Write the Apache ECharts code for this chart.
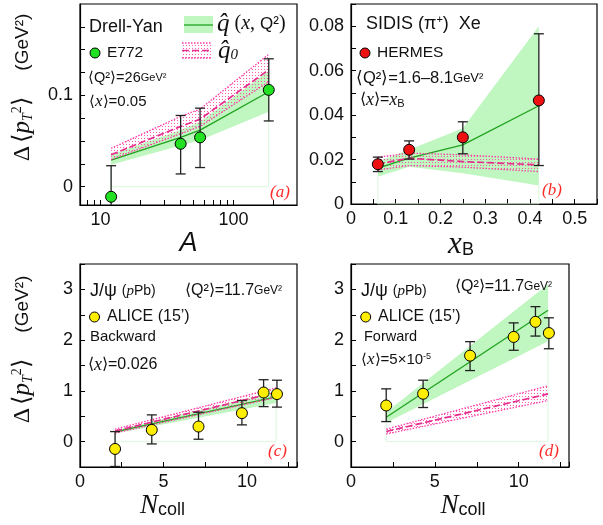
<!DOCTYPE html>
<html><head><meta charset="utf-8">
<script src="https://cdn.jsdelivr.net/npm/echarts@6/dist/echarts.min.js"></script>
<style>html,body{margin:0;padding:0;background:#fff}#c{width:603px;height:525px}</style>
</head><body><div id="c"></div>
<script>
// ---------- Panel (a): Drell-Yan, E772 ----------
const aA      = [12, 40, 56, 184];
const aY      = [-0.011, 0.047, 0.054, 0.106];
const aErrHi  = [0.023, 0.078, 0.086, 0.140];
const aErrLo  = [-0.045, 0.014, 0.021, 0.072];
const aCurveA = [12, 40, 56, 184];
const aQc     = [0.029, 0.054, 0.062, 0.104];
const aQu     = [0.035, 0.062, 0.071, 0.127];
const aQl     = [0.024, 0.045, 0.051, 0.082];
const aQ0c    = [0.035, 0.066, 0.074, 0.128];
const aQ0u    = [0.042, 0.077, 0.085, 0.145];
const aQ0l    = [0.030, 0.058, 0.066, 0.115];
const aXTicks = [8, 9, 10, 20, 30, 40, 50, 60, 70, 80, 90, 100, 200];
const aXLabels = [10, 100];
const aYTicks = [0, 0.025, 0.05, 0.075, 0.1, 0.125, 0.15, 0.175];
const aYLabels = [0, 0.1];

// ---------- Panel (b): SIDIS HERMES Xe ----------
const bX     = [0.06, 0.13, 0.25, 0.42];
const bY     = [0.0179, 0.0244, 0.0300, 0.0466];
const bErrHi = [0.0211, 0.0284, 0.0370, 0.0766];
const bErrLo = [0.0146, 0.0202, 0.0226, 0.0173];
const bQc    = [0.0161, 0.0206, 0.0266, 0.0442];
const bQu    = [0.0191, 0.0244, 0.0341, 0.0800];
const bQl    = [0.0123, 0.0168, 0.0138, 0.0083];
const bQ0c   = [0.0180, 0.0206, 0.0191, 0.0176];
const bQ0u   = [0.0211, 0.0229, 0.0221, 0.0202];
const bQ0l   = [0.0153, 0.0173, 0.0166, 0.0146];
const bXLabels = [0, 0.1, 0.2, 0.3, 0.4, 0.5];
const bYLabels = [0, 0.02, 0.04, 0.06, 0.08];

// ---------- Panels (c),(d): J/psi pPb ALICE ----------
const nColl   = [2.1, 4.3, 7.1, 9.7, 11.0, 11.8];
const cY      = [-0.144, 0.231, 0.297, 0.561, 0.968, 0.937];
const cErrHi  = [0.198, 0.527, 0.58, 0.81, 1.22, 1.21];
const cErrLo  = [-0.49, -0.045, 0.047, 0.33, 0.69, 0.68];
const dY      = [0.712, 0.943, 1.694, 2.063, 2.36, 2.14];
const dErrHi  = [1.04, 1.21, 1.97, 2.34, 2.66, 2.44];
const dErrLo  = [0.395, 0.672, 1.40, 1.80, 2.08, 1.83];
const curveN  = [2.1, 11.75];
const cQc  = [0.19, 0.88];
const cQu  = [0.22, 0.99];
const cQl  = [0.16, 0.76];
const cQ0c = [0.21, 0.97];
const cQ0u = [0.245, 1.06];
const cQ0l = [0.17, 0.87];
const dQc  = [0.48, 2.59];
const dQu  = [0.58, 3.10];
const dQl  = [0.37, 1.98];
const dQ0c = [0.20, 0.94];
const dQ0u = [0.245, 1.10];
const dQ0l = [0.15, 0.81];
const nXLabels = [0, 5, 10];
const nYLabels = [0, 1, 2, 3];

// ---------- styles ----------
const SANS = '"Liberation Sans", Arial, Helvetica, sans-serif';
const SERIF = '"Liberation Serif", "Times New Roman", serif';
const GREEN_FILL = '#c0f6c0';
const GREEN_LINE = '#1fa31f';
const PINK_DASH = '#e62e8e';
const PINK_DOT = '#ff3aa6';
const FAINT = '#dcf6dc';
const lg = v => Math.log10(v);

function dotPattern(color, w, h) {
  const c = document.createElement('canvas');
  c.width = w; c.height = h;
  const ctx = c.getContext('2d');
  ctx.fillStyle = color;
  ctx.fillRect(0, 0, 1, 1);
  return { image: c, repeat: 'repeat' };
}
const PINK_PATTERN = dotPattern('rgba(255,60,160,0.85)', 3, 3);

const tf = [lg, v => v, v => v, v => v];

function bandSeries(g, xs, up, lo, fill, z) {
  const t = tf[g];
  return {
    type: 'custom', xAxisIndex: g, yAxisIndex: g, z, silent: true, animation: false,
    data: [[t(xs[0]), lo[0]]],
    renderItem(params, api) {
      const pts = [];
      for (let i = 0; i < xs.length; i++) pts.push(api.coord([t(xs[i]), up[i]]));
      for (let i = xs.length - 1; i >= 0; i--) pts.push(api.coord([t(xs[i]), lo[i]]));
      return { type: 'polygon', shape: { points: pts }, style: { fill } };
    }
  };
}
function lineS(g, xs, ys, color, type, width, z) {
  const t = tf[g];
  return {
    type: 'line', xAxisIndex: g, yAxisIndex: g, z, silent: true, animation: false,
    data: xs.map((x, i) => [t(x), ys[i]]), symbol: 'none',
    lineStyle: { color, width, type }
  };
}
function faintS(g, xs, lo) {
  const n = xs.length - 1;
  return lineS(g, [xs[0], xs[0], xs[n], xs[n]], [lo[0], 0, 0, lo[n]], FAINT, 'solid', 1, 1);
}
function errS(g, xs, hi, lo) {
  const t = tf[g];
  return {
    type: 'custom', xAxisIndex: g, yAxisIndex: g, z: 8, silent: true, animation: false,
    data: xs.map((x, i) => [t(x), lo[i], hi[i]]),
    renderItem(params, api) {
      const x = api.value(0);
      const pHi = api.coord([x, api.value(2)]);
      const pLo = api.coord([x, api.value(1)]);
      const cs = params.coordSys;
      const top = cs.y, bot = cs.y + cs.height;
      const cl = v => Math.max(top, Math.min(bot, v));
      const st = { stroke: '#222', lineWidth: 1.3 };
      const ch = [{ type: 'line', shape: { x1: pHi[0], y1: cl(pHi[1]), x2: pLo[0], y2: cl(pLo[1]) }, style: st }];
      [pHi, pLo].forEach(p => {
        if (p[1] >= top && p[1] <= bot)
          ch.push({ type: 'line', shape: { x1: p[0] - 5, y1: p[1], x2: p[0] + 5, y2: p[1] }, style: st });
      });
      return { type: 'group', children: ch };
    }
  };
}
function ptsS(g, xs, ys, color) {
  const t = tf[g];
  return {
    type: 'scatter', xAxisIndex: g, yAxisIndex: g, z: 10, silent: true, animation: false,
    data: xs.map((x, i) => [t(x), ys[i]]), symbolSize: 11,
    itemStyle: { color, borderColor: '#000', borderWidth: 1, opacity: 1 }
  };
}
function panelSeries(g, cx, qc, qu, ql, q0c, q0u, q0l, px, py, hi, lo, color) {
  return [
    bandSeries(g, cx, qu, ql, GREEN_FILL, 1),
    faintS(g, cx, ql),
    bandSeries(g, cx, q0u, q0l, PINK_PATTERN, 2),
    lineS(g, cx, qc, GREEN_LINE, 'solid', 1.3, 3),
    lineS(g, cx, q0c, PINK_DASH, [7, 3], 1.7, 4),
    lineS(g, cx, q0u, PINK_DOT, [1.5, 1.5], 1.3, 4),
    lineS(g, cx, q0l, PINK_DOT, [1.5, 1.5], 1.3, 4),
    errS(g, px, hi, lo),
    ptsS(g, px, py, color)
  ];
}

const axisLineC = { show: true, onZero: false, lineStyle: { color: '#000', width: 1.2 } };
const tickC = { show: true, inside: true, length: 5, lineStyle: { color: '#000', width: 1 } };
const labelC = { color: '#111', fontFamily: SANS, fontSize: 18 };

function xAx(g, o) {
  return Object.assign({
    gridIndex: g, type: 'value', axisLine: axisLineC, splitLine: { show: false },
    nameLocation: 'middle', nameTextStyle: { color: '#111' }
  }, o);
}
function yAx(g, o) {
  return Object.assign({
    gridIndex: g, type: 'value', axisLine: axisLineC, splitLine: { show: false },
    nameLocation: 'middle', nameRotate: 90, nameTextStyle: { color: '#111' }
  }, o);
}

const yTitleRich = {
  d: { fontFamily: SERIF, fontSize: 24, color: '#111' },
  b: { fontFamily: SERIF, fontSize: 24, color: '#111' },
  p: { fontFamily: SERIF, fontStyle: 'italic', fontSize: 25, color: '#111' },
  t: { fontFamily: SERIF, fontStyle: 'italic', fontSize: 14, color: '#111', padding: [11, 0, 0, 0] },
  e: { fontFamily: SERIF, fontSize: 14, color: '#111', padding: [0, 0, 11, 0] },
  g: { fontFamily: SANS, fontSize: 19, color: '#111' }
};
const yTitle = '{d|Δ} {b|⟨}{p|p}{t|T}{e|2}{b|⟩}        {g|(GeV²)}';
const nRich = {
  n: { fontFamily: SERIF, fontStyle: 'italic', fontSize: 27, color: '#111' },
  c: { fontFamily: SANS, fontSize: 18, color: '#111', padding: [9, 0, 0, 0] }
};

const option = {
  animation: false,
  textStyle: { fontFamily: SANS },
  grid: [
    { left: 80, top: 4, width: 217, height: 201 },
    { left: 351, top: 4, width: 246, height: 200 },
    { left: 80, top: 264, width: 217, height: 203 },
    { left: 351, top: 264, width: 218, height: 203 }
  ].map(g => Object.assign(g, { show: true, borderColor: '#000', borderWidth: 1.2, backgroundColor: 'transparent' })),
  xAxis: [
    xAx(0, {
      min: lg(7), max: lg(300),
      axisTick: Object.assign({}, tickC, { customValues: aXTicks.map(lg) }),
      axisLabel: Object.assign({}, labelC, { margin: 6, customValues: aXLabels.map(lg), formatter: v => String(Math.round(Math.pow(10, v))) }),
      name: '{i|A}', nameGap: 24,
      nameTextStyle: { rich: { i: { fontFamily: SANS, fontStyle: 'italic', fontSize: 27, color: '#111' } } }
    }),
    xAx(1, {
      min: 0, max: 0.55, interval: 0.05,
      axisTick: tickC,
      axisLabel: Object.assign({}, labelC, { margin: 6, customValues: bXLabels }),
      name: '{x|x}{b|B}', nameGap: 22,
      nameTextStyle: { padding: [0, 26, 0, 0], rich: {
        x: { fontFamily: SERIF, fontStyle: 'italic', fontSize: 31, color: '#111' },
        b: { fontFamily: SANS, fontSize: 18, color: '#111', padding: [12, 0, 0, 0] } } }
    }),
    xAx(2, {
      min: 0, max: 13, interval: 2.5,
      axisTick: tickC,
      axisLabel: Object.assign({}, labelC, { margin: 6, customValues: nXLabels }),
      name: '{n|N}{c|coll}', nameGap: 25,
      nameTextStyle: { padding: [0, 52, 0, 0], rich: nRich }
    }),
    xAx(3, {
      min: 0, max: 13, interval: 2.5,
      axisTick: tickC,
      axisLabel: Object.assign({}, labelC, { margin: 6, customValues: nXLabels }),
      name: '{n|N}{c|coll}', nameGap: 25,
      nameTextStyle: { padding: [0, 0, 0, 6], rich: nRich }
    })
  ],
  yAxis: [
    yAx(0, {
      min: -0.02, max: 0.2,
      axisTick: Object.assign({}, tickC, { customValues: aYTicks }),
      axisLabel: Object.assign({}, labelC, { margin: 7, customValues: aYLabels }),
      name: yTitle, nameGap: 45,
      nameTextStyle: { padding: [0, 0, 0, 34], rich: yTitleRich }
    }),
    yAx(1, {
      min: 0, max: 0.09, interval: 0.01,
      axisTick: tickC,
      axisLabel: Object.assign({}, labelC, { margin: 7, customValues: bYLabels })
    }),
    yAx(2, {
      min: -0.5, max: 3.5, interval: 0.5,
      axisTick: tickC,
      axisLabel: Object.assign({}, labelC, { margin: 7, customValues: nYLabels }),
      name: yTitle, nameGap: 45,
      nameTextStyle: { padding: [0, 0, 0, 32], rich: yTitleRich }
    }),
    yAx(3, {
      min: -0.5, max: 3.5, interval: 0.5,
      axisTick: tickC,
      axisLabel: Object.assign({}, labelC, { margin: 7, customValues: nYLabels })
    })
  ],
  series: [].concat(
    panelSeries(0, aCurveA, aQc, aQu, aQl, aQ0c, aQ0u, aQ0l, aA, aY, aErrHi, aErrLo, '#22e022'),
    panelSeries(1, bX, bQc, bQu, bQl, bQ0c, bQ0u, bQ0l, bX, bY, bErrHi, bErrLo, '#ee1111'),
    panelSeries(2, curveN, cQc, cQu, cQl, cQ0c, cQ0u, cQ0l, nColl, cY, cErrHi, cErrLo, '#ffee00'),
    panelSeries(3, curveN, dQc, dQu, dQl, dQ0c, dQ0u, dQ0l, nColl, dY, dErrHi, dErrLo, '#ffee00')
  ),
  graphic: []
};

// ---------- annotation texts ----------
function R(size) {
  return {
    s: { fontFamily: SANS, fontSize: size },
    g: { fontFamily: SANS, fontSize: Math.round(size * 0.78) },
    x: { fontFamily: SERIF, fontStyle: 'italic', fontSize: size + 2 },
    u: { fontFamily: SANS, fontSize: Math.round(size * 0.62), padding: [0, 0, Math.round(size * 0.45), 0] },
    b: { fontFamily: SANS, fontSize: Math.round(size * 0.68), padding: [Math.round(size * 0.45), 0, 0, 0] },
    m: { fontFamily: SANS, fontSize: 14 },
    p: { fontFamily: SERIF, fontStyle: 'italic', fontSize: 15 },
    r: { fontFamily: SERIF, fontStyle: 'italic', fontSize: 17, fill: '#ff2a2a' }
  };
}
function T(x, y, text, size) {
  return { type: 'text', x, y, z: 20, silent: true,
    style: { text, rich: R(size), align: 'left', verticalAlign: 'middle', fill: '#111', fontFamily: SANS, fontSize: size } };
}
function dot(x, y, color) {
  return { type: 'circle', z: 20, silent: true, shape: { cx: x, cy: y, r: 5 }, style: { fill: color, stroke: '#000', lineWidth: 1 } };
}
const G = option.graphic;
// (a)
G.push(T(89, 27, '{s|Drell-Yan}', 18));
G.push(dot(95, 53, '#22e022'));
G.push(T(107, 53, '{s|E772}', 15.5));
G.push(T(88, 78, '{s|⟨Q²⟩=26}{g|GeV²}', 14.5));
G.push(T(89, 102, '{s|⟨}{x|x}{s|⟩=0.05}', 15));
G.push(T(270, 193, '{r|(a)}', 17));
// legend (a)
G.push({ type: 'rect', z: 19, silent: true, shape: { x: 184, y: 16, width: 29, height: 17 }, style: { fill: GREEN_FILL } });
G.push({ type: 'line', z: 20, silent: true, shape: { x1: 184, y1: 25, x2: 213, y2: 25 }, style: { stroke: GREEN_LINE, lineWidth: 1.3 } });
G.push({ type: 'rect', z: 19, silent: true, shape: { x: 182, y: 43, width: 30, height: 15 }, style: { fill: PINK_PATTERN } });
G.push({ type: 'line', z: 20, silent: true, shape: { x1: 182, y1: 43, x2: 212, y2: 43 }, style: { stroke: PINK_DOT, lineWidth: 1.3, lineDash: [1.5, 1.5] } });
G.push({ type: 'line', z: 20, silent: true, shape: { x1: 182, y1: 58, x2: 212, y2: 58 }, style: { stroke: PINK_DOT, lineWidth: 1.3, lineDash: [1.5, 1.5] } });
G.push({ type: 'line', z: 20, silent: true, shape: { x1: 182, y1: 50.5, x2: 212, y2: 50.5 }, style: { stroke: PINK_DASH, lineWidth: 1.7, lineDash: [7, 3] } });
G.push({ type: 'text', x: 217, y: 24, z: 20, silent: true, style: {
  text: '{q|q̂}{m| (}{x|x}{m|, }{s|Q²}{m|)}', align: 'left', verticalAlign: 'middle', fill: '#111',
  rich: { q: { fontFamily: SERIF, fontStyle: 'italic', fontSize: 25 }, m: { fontFamily: SERIF, fontSize: 20 },
          x: { fontFamily: SERIF, fontStyle: 'italic', fontSize: 20 }, s: { fontFamily: SANS, fontSize: 17 } } } });
G.push({ type: 'text', x: 218, y: 51, z: 20, silent: true, style: {
  text: '{q|q̂}{z|0}', align: 'left', verticalAlign: 'middle', fill: '#111',
  rich: { q: { fontFamily: SERIF, fontStyle: 'italic', fontSize: 25 },
          z: { fontFamily: SERIF, fontStyle: 'italic', fontSize: 15, padding: [9, 0, 0, 0] } } } });
// (b)
G.push(T(366, 24, '{s|SIDIS (π}{u|+}{s|)  Xe}', 18));
G.push(dot(365, 53, '#ee1111'));
G.push(T(377, 53, '{s|HERMES}', 15.5));
G.push(T(356, 78, '{s|⟨Q²⟩=1.6–8.1}{g|GeV²}', 16.5));
G.push(T(360, 100, '{s|⟨}{x|x}{s|⟩=}{x|x}{b|B}', 16));
G.push(T(542, 191, '{r|(b)}', 17));
// (c)
G.push(T(90, 291, '{s|J/ψ }{m|(}{p|p}{m|Pb)}', 18));
G.push(T(185, 291, '{s|⟨Q²⟩=11.7}{g|GeV²}', 16));
G.push(dot(94.5, 317, '#ffee00'));
G.push(T(107, 317, '{s|ALICE (15’)}', 16));
G.push(T(90, 337, '{s|Backward}', 15));
G.push(T(88, 365, '{s|⟨}{x|x}{s|⟩=0.026}', 16));
G.push(T(268, 452, '{r|(c)}', 17));
// (d)
G.push(T(361, 291, '{s|J/ψ }{m|(}{p|p}{m|Pb)}', 18));
G.push(T(455, 287, '{s|⟨Q²⟩=11.7}{g|GeV²}', 16));
G.push(dot(365.7, 317, '#ffee00'));
G.push(T(378, 317, '{s|ALICE (15’)}', 16));
G.push(T(364, 337, '{s|Forward}', 14.5));
G.push(T(361, 360, '{s|⟨}{x|x}{s|⟩=5×10}{u|-5}', 15));
G.push(T(539, 452, '{r|(d)}', 17));

const chart = echarts.init(document.getElementById('c'), null, { renderer: 'canvas' });
chart.setOption(option);
</script>
</body></html>
